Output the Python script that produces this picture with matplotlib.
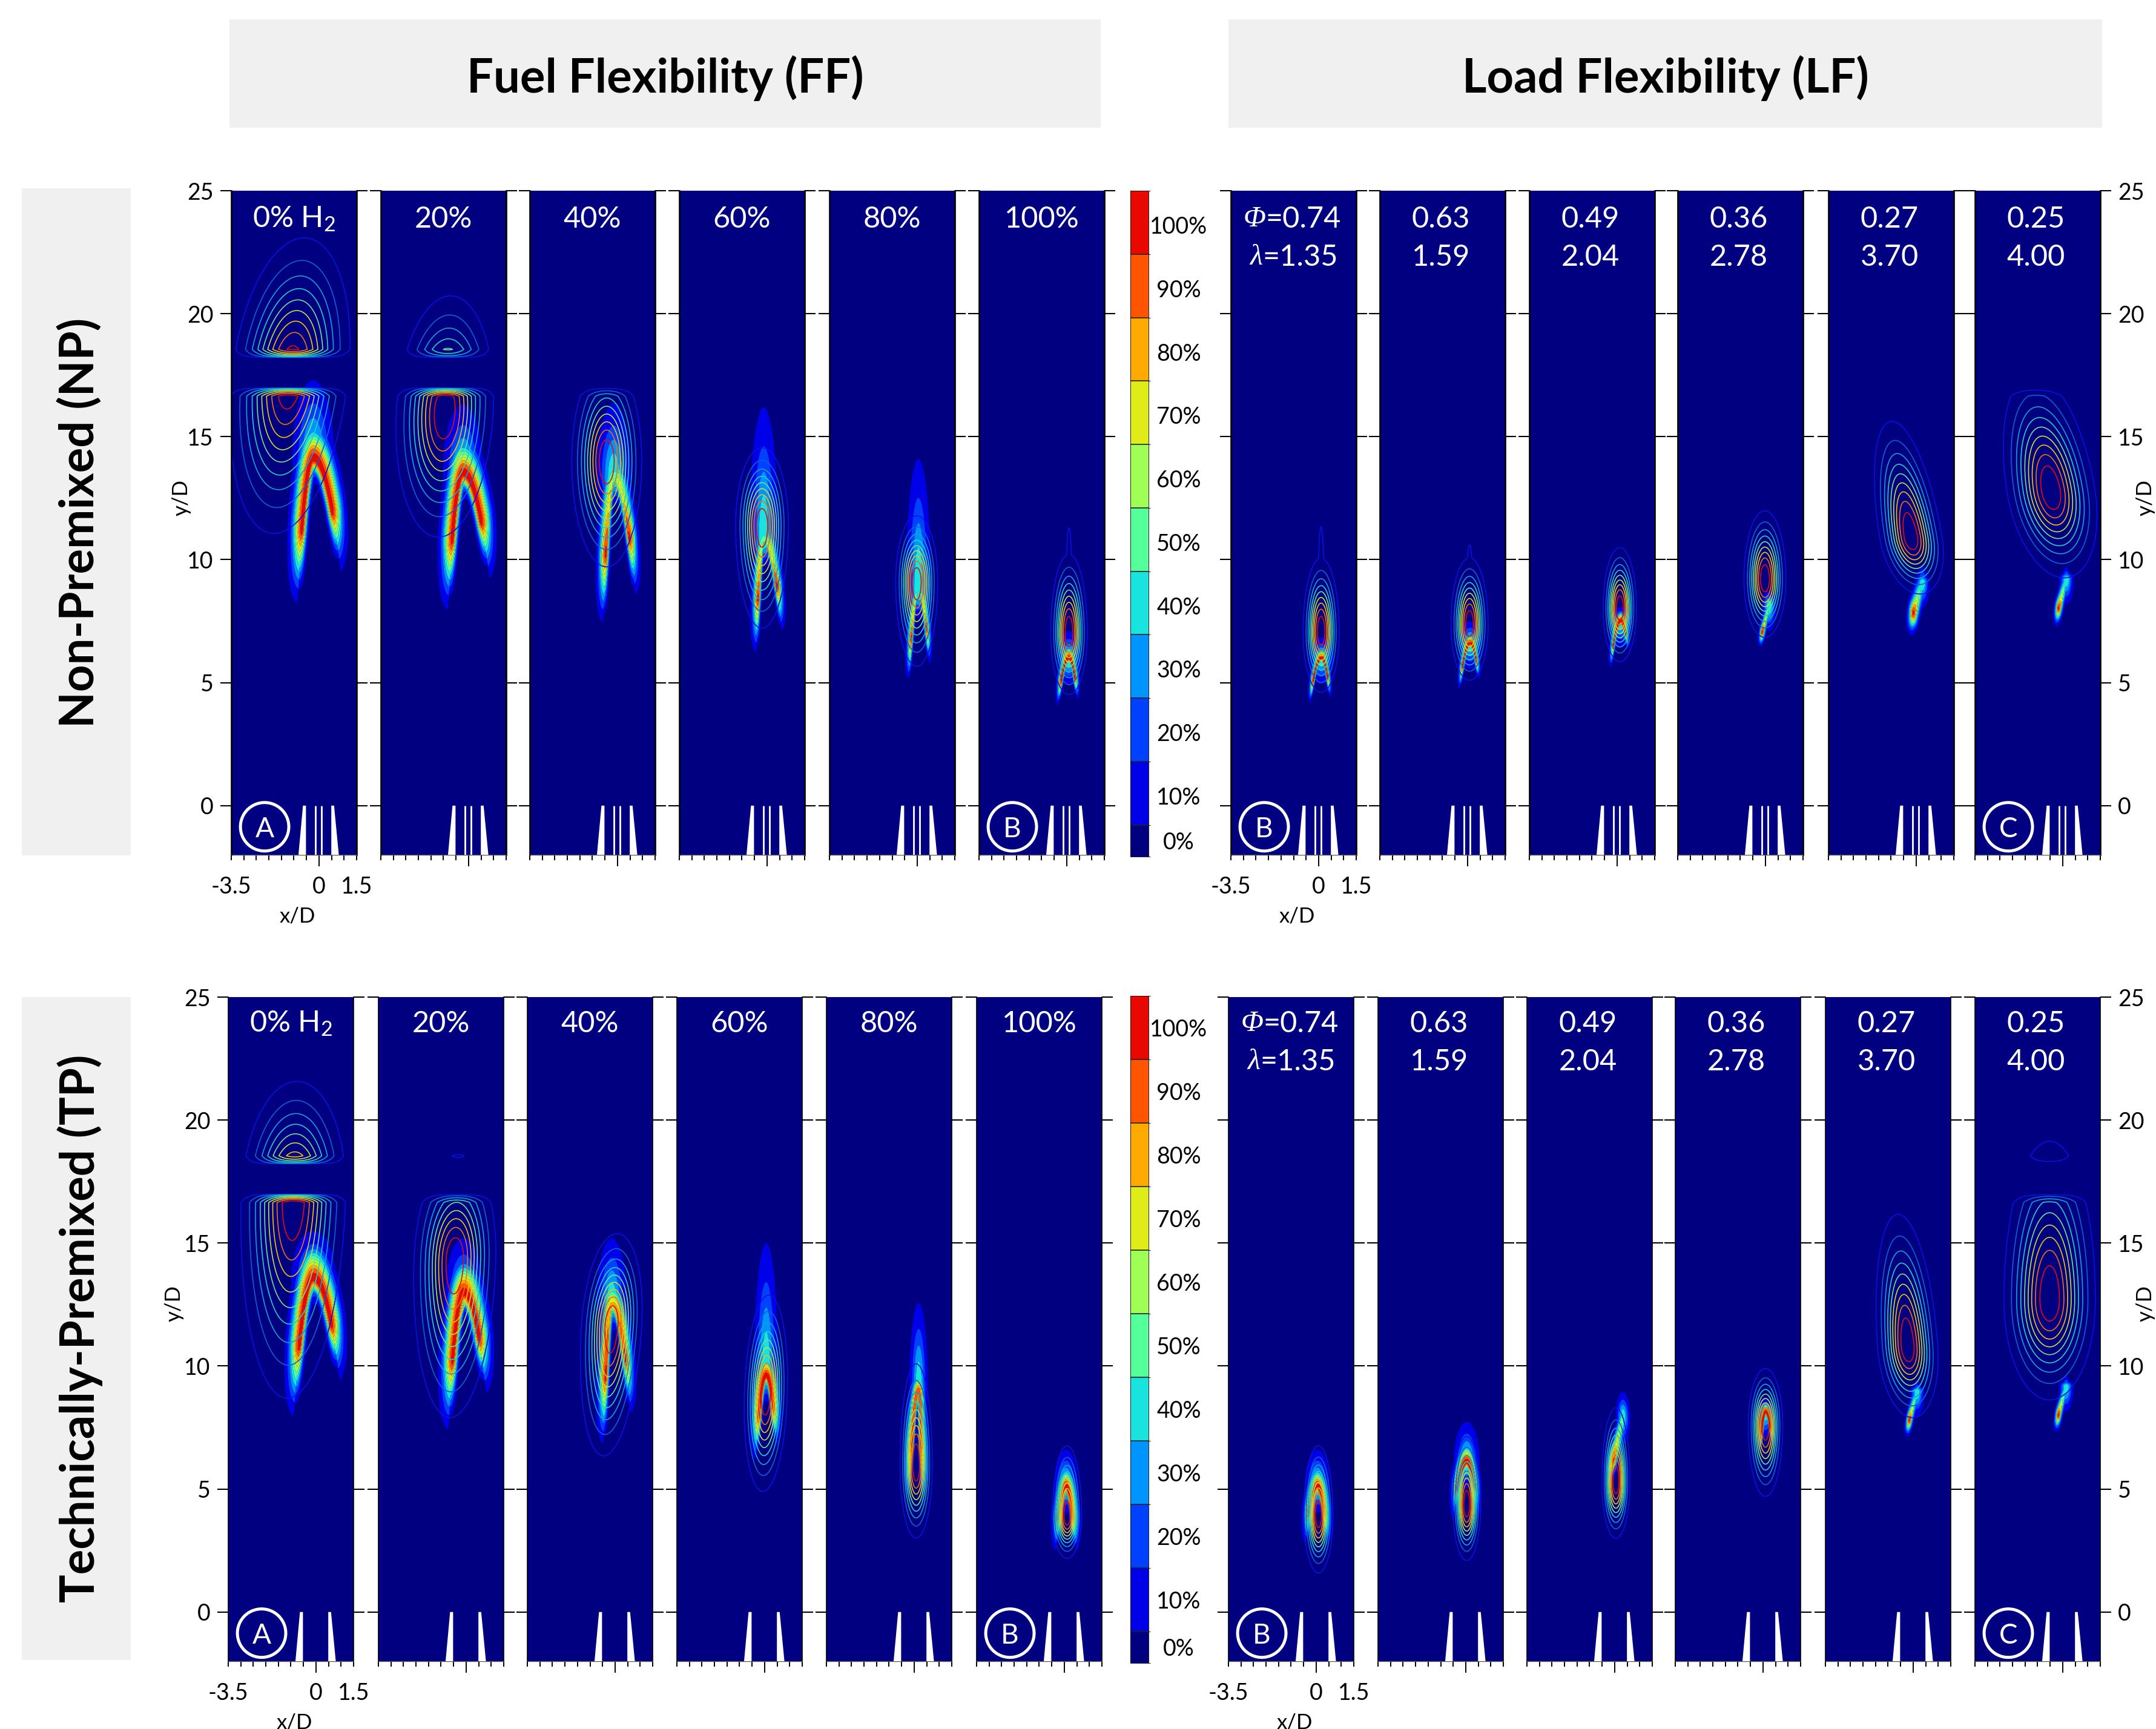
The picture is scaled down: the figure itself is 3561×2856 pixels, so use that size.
import numpy as np
import matplotlib
matplotlib.use('Agg')
import matplotlib.pyplot as plt
from matplotlib.cm import ScalarMappable
from matplotlib.colors import BoundaryNorm, ListedColormap
from matplotlib.patches import Ellipse, Rectangle

W, H = 3562, 2856
NAVY = '#000080'

# each group is [NP FF, NP LF, TP FF, TP LF], six panels each
ff_labels = ['0% H$_2$', '20%', '40%', '60%', '80%', '100%']
phi_labels = ['0.74', '0.63', '0.49', '0.36', '0.27', '0.25']
lam_labels = ['1.35', '1.59', '2.04', '2.78', '3.70', '4.00']
level_names = ['0%', '10%', '20%', '30%', '40%', '50%', '60%', '70%', '80%', '90%', '100%']
level_colors = ['#000080', '#0000e8', '#0040ff', '#0094ff', '#19e3df', '#55ff99',
                '#a0ff55', '#e0ec18', '#ffaa00', '#ff5500', '#e80800']
line_levels = [0.1, 0.2, 0.3, 0.4, 0.5, 0.6, 0.7, 0.8, 0.9]
line_colors = ['#0a10e0', '#0a60d8', '#10a0d8', '#20d0c0', '#70e090', '#c0e040',
               '#f0c010', '#f07010', '#e80808']

# The fields are smooth approximations: the image data can't be read cell by cell,
# so each panel is rebuilt from the positions and extents.

# filled flame: apex, left and right leg tips, apex strength, plume top, leg width
# a right tip equal to the apex means a single slanted streak
apex_x = [[-0.23, -0.22, -0.15, -0.13, 0.05, 0.09], [0.12, 0.11, 0.15, 0.15, 0.25, 0.15],
          [-0.11, -0.09, -0.13, 0.06, 0.18, 0.07], [0.05, 0.04, 0.33, 0.1, 0.16, 0.14]]
apex_y = [[14.1, 13.5, 13.3, 10.8, 8.7, 6.0], [6.0, 6.6, 7.5, 8.15, 9.1, 9.25],
          [13.56, 12.95, 12.5, 9.6, 9.0, 5.1], [5.1, 6.1, 7.9, 8.13, 9.0, 9.2]]
left_x = [[-0.82, -0.78, -0.56, -0.42, -0.32, -0.32], [-0.32, -0.29, -0.23, -0.22, -0.23, -0.27],
          [-0.84, -0.67, -0.45, -0.33, -0.19, -0.3], [-0.36, -0.42, -0.2, -0.08, -0.26, -0.28]]
left_y = [[8.9, 8.66, 7.8, 6.5, 5.3, 4.3], [4.34, 4.91, 5.78, 6.68, 7.42, 7.62],
          [8.63, 8.1, 7.2, 6.6, 5.0, 2.9], [3.2, 4.2, 5.6, 6.7, 7.4, 7.6]]
right_x = [[0.77, 0.73, 0.67, 0.55, 0.46, 0.39], [0.42, 0.41, 0.4, 0.15, 0.25, 0.15],
           [0.84, 0.7, 0.58, 0.43, 0.3, 0.42], [0.42, 0.4, 0.33, 0.35, 0.16, 0.14]]
right_y = [[10.25, 10.0, 8.97, 7.42, 6.0, 4.56], [4.6, 5.32, 6.55, 8.15, 9.1, 9.25],
           [10.18, 9.7, 8.5, 7.2, 5.0, 2.9], [3.2, 4.3, 7.9, 7.0, 9.0, 9.2]]
apex_amp = [[1, 1, 0.5, 0.45, 0.35, 1], [1, 1, 1, 0.4, 0.3, 0.3],
            [1, 1, 0.75, 1, 0.9, 1], [1, 1, 0.5, 1, 0.3, 0.3]]
plume_top = [[17.3, 16.3, 16.36, 16.2, 14.1, 7.1], [6.84, 7.5, 8.07, 8.73, 9.4, 9.5],
             [15.5, 15.2, 15.2, 15.0, 12.56, 6.6], [6.6, 7.73, 8.94, 8.7, 9.2, 9.4]]
leg_width = [[1, 1, 0.7, 0.55, 0.4, 0.35], [0.3, 0.3, 0.3, 0.3, 0.55, 0.4],
             [1, 1, 0.7, 0.6, 0.5, 0.55], [0.55, 0.55, 0.45, 0.3, 0.35, 0.35]]

# line contours: peak position, spread up, down and across, lean, faint tail top
peak_x = [[-1.15, -0.95, -0.43, -0.2, -0.02, 0.09], [0.1, 0.08, 0.11, -0.02, -0.21, -0.47],
          [-0.9, -0.45, -0.14, 0.05, 0.08, 0.11], [0.09, 0.04, 0.05, 0.1, -0.22, -0.52]]
peak_y = [[17.5, 16.0, 14.0, 11.4, 9.1, 7.0], [7.05, 7.35, 8.0, 9.2, 10.9, 12.8],
          [16.85, 14.3, 11.65, 8.85, 5.95, 3.9], [3.93, 4.35, 5.3, 7.6, 10.8, 12.7]]
spread_up = [[2.6, 2.2, 1.9, 1.47, 1.25, 1.5], [1.4, 1.27, 1.16, 1.3, 2.2, 2.2],
             [2.2, 2.0, 1.74, 1.88, 1.93, 1.33], [1.32, 1.3, 1.4, 1.07, 2.5, 3.0]]
spread_down = [[3.0, 2.37, 2.0, 1.95, 1.6, 1.16], [1.14, 1.05, 1.0, 1.1, 1.07, 1.65],
               [3.8, 2.98, 2.47, 1.84, 1.37, 0.8], [1.09, 1.05, 1.07, 1.35, 1.35, 1.9]]
spread_x = [[1.08, 0.9, 0.65, 0.49, 0.39, 0.34], [0.335, 0.345, 0.31, 0.39, 0.58, 0.82],
            [0.97, 0.76, 0.56, 0.4, 0.3, 0.27], [0.27, 0.26, 0.26, 0.32, 0.56, 0.85]]
lean = [[0.1, 0.05, 0, 0, 0, 0], [0, 0, 0, 0, -0.16, -0.15],
        [0.03, 0.03, 0.06, 0.03, 0, 0], [0, 0, 0, 0, -0.07, 0]]
tail_top = [[0, 0, 0, 0, 0, 11.3], [11.35, 10.6, 0, 0, 0, 0],
            [0, 0, 0, 0, 0, 0], [0, 0, 0, 0, 0, 0]]

# burner outline below y/D=0
nozzle_left_x = [-0.82, -0.64, -0.52, -0.52]
nozzle_right_x = [0.49, 0.49, 0.6, 0.79]
nozzle_y = [-2, 0, 0, -2]
pilot_x = [-0.145, 0.1]

# panel pixel edges
panel_left = [[382, 629, 875, 1122, 1370, 1617], [2033, 2279, 2526, 2771, 3020, 3262],
              [377, 625, 871, 1118, 1365, 1613], [2029, 2276, 2522, 2767, 3015, 3262]]
panel_top = [315, 315, 1647, 1647]
panel_bottom = [1412, 1412, 2744, 2744]
PANEL_W = 207


def px_axes(fig, left, top, right, bottom):
    return fig.add_axes([left / W, 1 - bottom / H, (right - left) / W, (bottom - top) / H])


def px_text(fig, x, y, s, **kw):
    fig.text(x / W, 1 - y / H, s, ha=kw.pop('ha', 'center'), va=kw.pop('va', 'center'), **kw)


def flame_field(X, Y, g, i):
    ax0, ay0 = apex_x[g][i], apex_y[g][i]
    lx, ly = left_x[g][i], left_y[g][i]
    rx0, ry0 = right_x[g][i], right_y[g][i]
    ws = leg_width[g][i]
    streak = rx0 == ax0
    field = np.zeros_like(X)
    t = np.linspace(0, 1, 50)
    amp = np.interp(t, [0, 0.5, 0.75, 1], [apex_amp[g][i], (apex_amp[g][i] + 1) / 2, 1, 0])
    if streak:
        sigma = 0.2 * ws * np.ones_like(X)
        legs = [(lx, ly)]
        power = 1
        sp = 0.14
    else:
        arch = np.where(X < ax0,
                        ay0 + (ly - ay0) * ((X - ax0) / (lx - ax0)) ** 2,
                        ay0 + (ry0 - ay0) * ((X - ax0) / (rx0 - ax0)) ** 2)
        sigma = np.where(Y < arch, 0.11 * ws, 0.24 * ws)
        legs = [(lx, ly), (rx0, ry0)]
        power = 2
        sp = 0.08 + 0.2 * (rx0 - lx)
    for tip_x, tip_y in legs:
        rx = ax0 + (tip_x - ax0) * t
        ry = ay0 + (tip_y - ay0) * t ** power
        for px, py, a in zip(rx, ry, amp):
            if a <= 0:
                continue
            d2 = ((X - px) ** 2 + ((Y - py) / 3.0) ** 2) / sigma ** 2
            field = np.maximum(field, a * np.exp(-0.5 * d2))
    # faint plume above the apex
    sy = np.where(Y > ay0, (plume_top[g][i] - ay0) / 2.1, 0.5)
    plume = 0.45 * np.exp(-0.5 * ((X - ax0) / sp) ** 2 - 0.5 * ((Y - ay0) / sy) ** 2)
    return np.maximum(field, plume)


def line_field(X, Y, g, i):
    cy = peak_y[g][i]
    xc = peak_x[g][i] + lean[g][i] * (Y - cy)
    sy = np.where(Y > cy, spread_up[g][i], spread_down[g][i])
    field = np.exp(-0.5 * ((X - xc) / spread_x[g][i]) ** 2 - 0.5 * ((Y - cy) / sy) ** 2)
    if tail_top[g][i] > 0:
        st = (tail_top[g][i] - cy) / 0.724
        tail = 0.13 * np.exp(-0.5 * ((X - xc) / (spread_x[g][i] * 0.6)) ** 2 - 0.5 * ((Y - cy) / st) ** 2)
        field = np.maximum(field, np.where(Y > cy, tail, 0))
    # the lower and upper camera windows leave this band dark
    fade = np.where(Y < 17.6, np.clip((17.0 - Y) / 0.35, 0, 1), np.clip((Y - 18.2) / 0.35, 0, 1))
    return field * np.sqrt(fade)


plt.rcParams['font.family'] = ['Lato', 'DejaVu Sans']
plt.rcParams['mathtext.default'] = 'regular'

fig = plt.figure(figsize=(W / 100, H / 100), dpi=100)

# grey header and row bands
for x0, y0, x1, y1 in [(379, 32, 1818, 211), (2029, 32, 3472, 211), (36, 311, 216, 1413), (36, 1647, 216, 2742)]:
    fig.patches.append(Rectangle((x0 / W, 1 - y1 / H), (x1 - x0) / W, (y1 - y0) / H,
                                 transform=fig.transFigure, color='#f0f0f0', lw=0))

px_text(fig, 1099, 129, 'Fuel Flexibility (FF)', fontsize=56, fontweight='bold')
px_text(fig, 2751, 129, 'Load Flexibility (LF)', fontsize=56, fontweight='bold')
px_text(fig, 132, 863, 'Non-Premixed (NP)', fontsize=56, fontweight='bold', rotation=90)
px_text(fig, 132, 2194, 'Technically-Premixed (TP)', fontsize=56, fontweight='bold', rotation=90)

x_grid = np.linspace(-3.5, 1.5, 201)
y_grid = np.linspace(-2, 25, 541)
X, Y = np.meshgrid(x_grid, y_grid)
bounds = [0.05 + 0.1 * k for k in range(11)]

for g in range(4):
    is_lf = g % 2 == 1
    top_row = g < 2
    for i in range(6):
        left = panel_left[g][i]
        ax = px_axes(fig, left, panel_top[g], left + PANEL_W, panel_bottom[g])
        ax.set_facecolor(NAVY)
        ax.set_xlim(-3.5, 1.5)
        ax.set_ylim(-2, 25)

        ax.contourf(X, Y, flame_field(X, Y, g, i), levels=bounds, colors=level_colors[1:], antialiased=True)
        ax.contour(X, Y, line_field(X, Y, g, i), levels=line_levels, colors=line_colors, linewidths=1.2)

        ax.fill(nozzle_left_x, nozzle_y, color='white', lw=0, zorder=3)
        ax.fill(nozzle_right_x, nozzle_y, color='white', lw=0, zorder=3)
        if top_row:
            for px in pilot_x:
                ax.plot([px, px], [-2, 0], color='white', lw=2, solid_capstyle='butt', zorder=3)

        letter = None
        if i == 0:
            letter = 'B' if is_lf else 'A'
        elif i == 5:
            letter = 'C' if is_lf else 'B'
        if letter:
            ax.add_patch(Ellipse((-2.17, -0.86), 1.93, 1.97, fill=False, ec='white', lw=3.6, zorder=4))
            ax.text(-2.17, -0.86, letter, color='white', fontsize=33, ha='center', va='center_baseline', zorder=4)

        # panel headings
        label_y = 23.85 if top_row else 23.92
        if is_lf:
            cx = -1.07
            if i == 0:
                ax.text(-2.11, label_y, 'Φ', color='white', fontsize=35, family='Liberation Serif',
                        style='italic', ha='right', va='center')
                ax.text(-2.11, label_y, '=' + phi_labels[i], color='white', fontsize=35, ha='left', va='center')
                ax.text(-2.24, label_y - 1.55, 'λ', color='white', fontsize=35, family='Liberation Serif',
                        style='italic', ha='right', va='center')
                ax.text(-2.24, label_y - 1.55, '=' + lam_labels[i], color='white', fontsize=35, ha='left', va='center')
            else:
                ax.text(cx, label_y, phi_labels[i], color='white', fontsize=35, ha='center', va='center')
                ax.text(cx, label_y - 1.55, lam_labels[i], color='white', fontsize=35, ha='center', va='center')
        else:
            ax.text(-1.0, label_y, ff_labels[i], color='white', fontsize=35, ha='center', va='center')

        # spines and ticks
        ax.spines['top'].set_visible(False)
        ax.spines['bottom'].set_color('#555555')
        ax.spines['bottom'].set_linewidth(1)
        for side in ['left', 'right']:
            ax.spines[side].set_linewidth(1.9 if top_row else 1.2)

        ax.set_yticks([0, 5, 10, 15, 20, 25])
        show_left = (not is_lf) and i == 0
        show_right = is_lf and i == 5
        ax.tick_params(axis='y', which='major', direction='out', length=13, width=1.5, left=True, right=True,
                       labelleft=show_left, labelright=show_right, labelsize=27, pad=8)
        ax.set_xticks(np.arange(-3.5, 1.51, 0.5))
        ax.set_xticklabels([])
        ax.tick_params(axis='x', direction='out', length=6.5, width=1.4)
        for tick, val in zip(ax.xaxis.get_major_ticks(), np.arange(-3.5, 1.51, 0.5)):
            if abs(val) < 1e-6:
                tick.tick1line.set_markersize(14)

        if i == 0:
            for val, s in [(-3.5, '-3.5'), (0, '0'), (1.5, '1.5')]:
                ax.annotate(s, xy=(val, 0), xycoords=ax.get_xaxis_transform(), xytext=(0, -38),
                            textcoords='offset points', ha='center', va='center', fontsize=27)
            ax.annotate('x/D', xy=(-0.85, 0), xycoords=ax.get_xaxis_transform(), xytext=(0, -73),
                        textcoords='offset points', ha='center', va='center', fontsize=25, annotation_clip=False)

    # colour bars sit beside the FF panels
    if not is_lf:
        cax = px_axes(fig, 1867, panel_top[g] + (0 if top_row else -2), 1897, panel_bottom[g] + 3)
        sm = ScalarMappable(norm=BoundaryNorm([0, 5, 15, 25, 35, 45, 55, 65, 75, 85, 95, 105], 11),
                            cmap=ListedColormap(level_colors))
        shift = 0.4 if top_row else 0
        cb = fig.colorbar(sm, cax=cax, spacing='proportional', drawedges=True,
                          boundaries=[0, 5, 15, 25, 35, 45, 55, 65, 75, 85, 95, 105],
                          ticks=[2.5] + [v - shift for v in range(10, 101, 10)])
        cb.ax.set_yticklabels(level_names, ha='center', fontsize=27)
        cb.ax.tick_params(length=0, pad=36)
        cb.outline.set_linewidth(0.6)
        cb.dividers.set_linewidth(1.2)
        cb.dividers.set_color('#222222')

# axis names outside the panels
px_text(fig, 300, 822, 'y/D', rotation=90, fontsize=25)
px_text(fig, 3544, 822, 'y/D', rotation=90, fontsize=25)
px_text(fig, 288, 2153, 'y/D', rotation=90, fontsize=25)
px_text(fig, 3544, 2153, 'y/D', rotation=90, fontsize=25)

fig.savefig('out.png', dpi=100, facecolor='white')
